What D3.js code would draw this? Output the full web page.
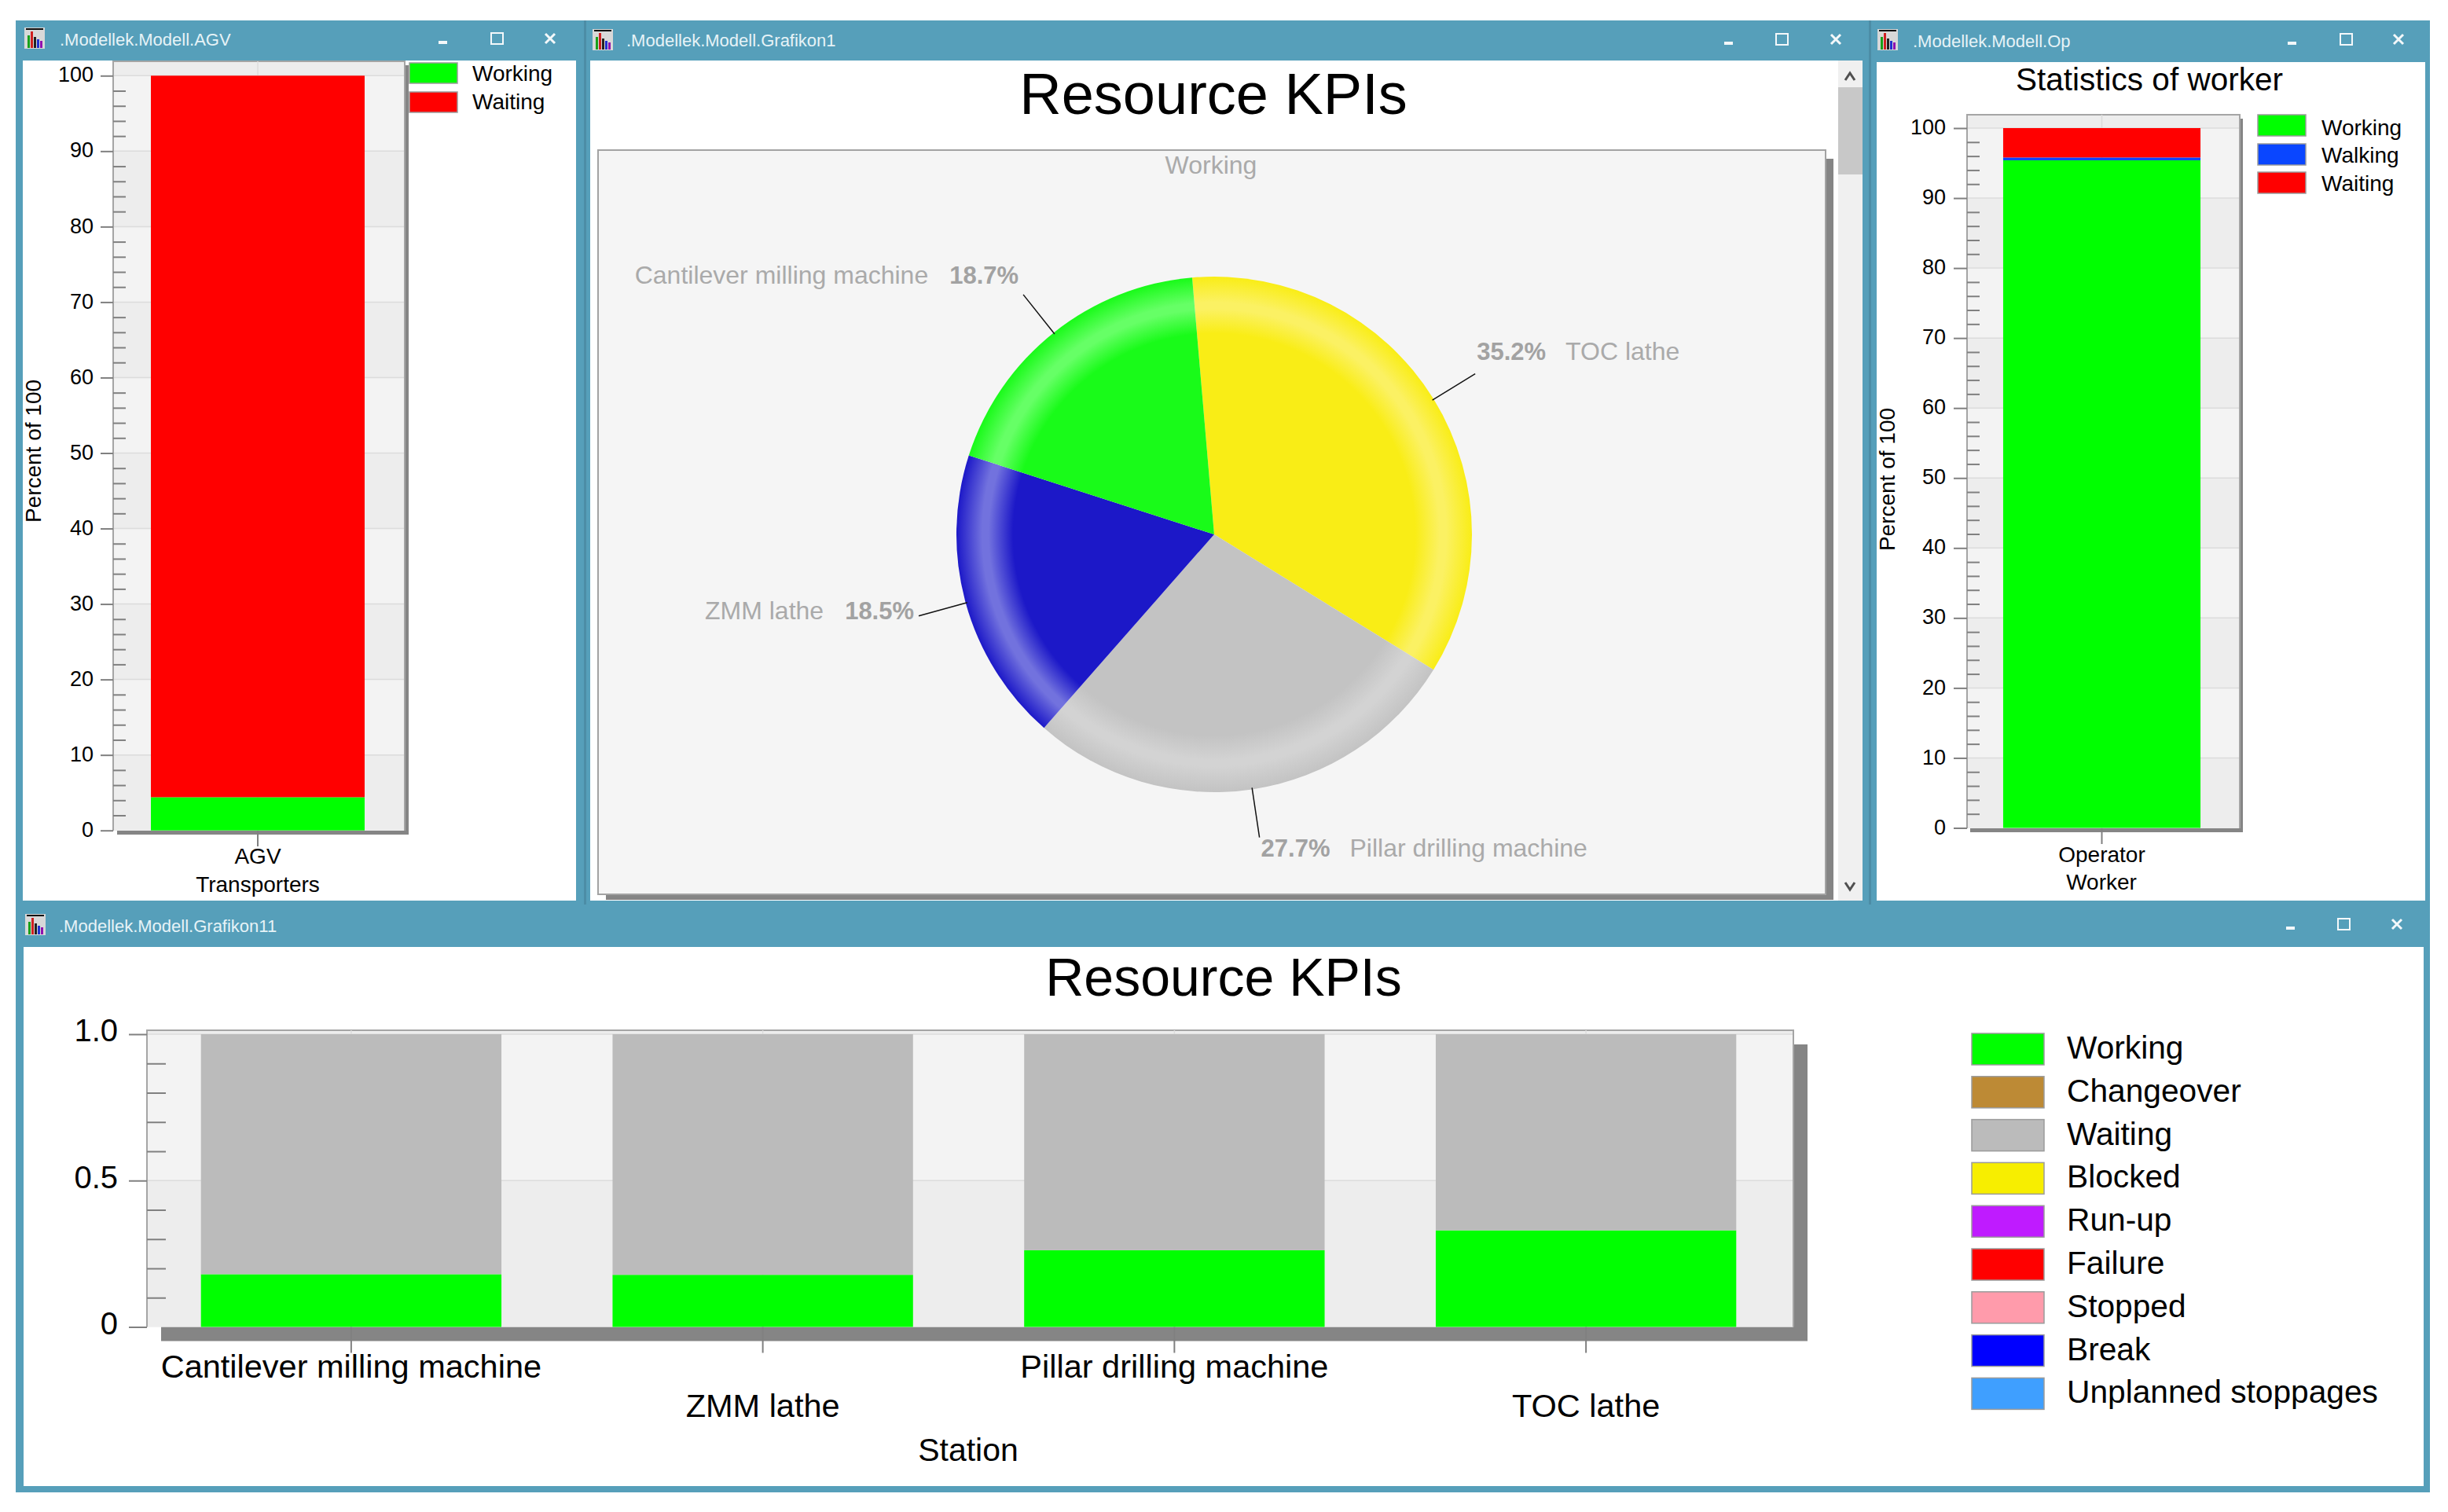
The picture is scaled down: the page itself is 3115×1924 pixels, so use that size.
<!DOCTYPE html>
<html>
<head>
<meta charset="utf-8">
<title>Resource KPIs</title>
<script src="https://cdn.jsdelivr.net/npm/d3@7"></script>
<style>
    body { margin: 0; background: #fff; }
    svg { display: block; }
    text { font-family: "Liberation Sans", Arial, sans-serif; fill: #000; }
</style>
</head>
<body>
<svg id="visualisation" width="3115" height="1924"></svg>
<script>
// AGV window
var agvCategories = ["AGV"];
var agvWorking = [4.4];
var agvWaiting = [95.6];
var agvNames = ["Working", "Waiting"];
var agvColors = ["#00ff00", "#ff0000"];

// worker window
var opCategories = ["Operator"];
var opWorking = [95.4];
var opWalking = [0.4];
var opWaiting = [4.2];
var opNames = ["Working", "Walking", "Waiting"];
var opColors = ["#00ff00", "#0a46ff", "#ff0000"];

var percentTicks = [0, 10, 20, 30, 40, 50, 60, 70, 80, 90, 100];
var percentMinor = [2, 4, 6, 8, 12, 14, 16, 18, 22, 24, 26, 28, 32, 34, 36, 38, 42, 44, 46, 48, 52, 54, 56, 58, 62, 64, 66, 68, 72, 74, 76, 78, 82, 84, 86, 88, 92, 94, 96, 98];

// pie window, clockwise from the top
var pieNames = ["TOC lathe", "Pillar drilling machine", "ZMM lathe", "Cantilever milling machine"];
var pieShares = [35.2, 27.7, 18.5, 18.7];
var pieColors = ["#f9ed16", "#c3c3c3", "#1c18c8", "#19fb19"];
var pieLights = ["#fbf163", "#d3d3d3", "#7272de", "#66ff66"];

// station window
var stations = ["Cantilever milling machine", "ZMM lathe", "Pillar drilling machine", "TOC lathe"];
var stationWorking = [0.18, 0.178, 0.262, 0.33];
var stationWaiting = [0.82, 0.822, 0.738, 0.67];
var stationTicks = [0, 0.5, 1];
var stationTickLabels = ["0", "0.5", "1.0"];
var stationMinor = [0.1, 0.2, 0.3, 0.4, 0.6, 0.7, 0.8, 0.9];
var stateNames = ["Working", "Changeover", "Waiting", "Blocked", "Run-up", "Failure", "Stopped", "Break", "Unplanned stoppages"];
var stateColors = ["#00ff00", "#bd8a35", "#bbbbbb", "#f7ee00", "#bf1bff", "#ff0000", "#ff9bab", "#0000ff", "#3f9fff"];

var BLUE = "#569fba",
    BAND_DARK = "#ededed",
    BAND_LIGHT = "#f3f3f3",
    GRID = "#dcdcdc",
    TICK = "#808080",
    SHADOW = "#858585";

var vis = d3.select("#visualisation");

var addText = function (parent, x, y, str, size, anchor) {
    return parent.append("text")
        .attr("x", x)
        .attr("y", y)
        .attr("font-size", size)
        .attr("text-anchor", anchor || "start")
        .text(str);
};

var drawIcon = function (x, y) {
    var g = vis.append("g").attr("transform", "translate(" + x + "," + y + ")");
    g.append("rect").attr("width", 26).attr("height", 27).attr("fill", "#d8d8d8");
    g.append("rect").attr("x", 2).attr("y", 1).attr("width", 22).attr("height", 2).attr("fill", "#111");
    ["#19a019", "#d02020", "#222222", "#2030d0", "#9010b0"].forEach(function (c, i) {
        var h = [16, 21, 14, 11, 9][i];
        g.append("rect")
            .attr("x", 4 + i * 4)
            .attr("y", 26 - h)
            .attr("width", 3)
            .attr("height", h)
            .attr("fill", c);
    });
};

var drawButtons = function (xMin, xMax, xClose, y) {
    var g = vis.append("g").attr("fill", "none").attr("stroke", "#f4f8fa");
    g.append("line")
        .attr("x1", xMin - 5).attr("x2", xMin + 6)
        .attr("y1", y + 5).attr("y2", y + 5)
        .attr("stroke-width", 4);
    g.append("rect")
        .attr("x", xMax - 7).attr("y", y - 7)
        .attr("width", 15).attr("height", 14)
        .attr("stroke-width", 2);
    g.append("path")
        .attr("d", "M" + (xClose - 6) + "," + (y - 6) + "L" + (xClose + 6) + "," + (y + 6) +
            "M" + (xClose + 6) + "," + (y - 6) + "L" + (xClose - 6) + "," + (y + 6))
        .attr("stroke-width", 3);
};

var drawTitleBar = function (iconX, iconY, textX, textY, str, btn) {
    drawIcon(iconX, iconY);
    addText(vis, textX, textY, str, 22).style("fill", "#e6f3f7");
    drawButtons(btn[0], btn[1], btn[2], btn[3]);
};

var drawChrome = function () {
    vis.append("rect").attr("x", 20).attr("y", 26).attr("width", 3072).attr("height", 1873).attr("fill", BLUE);
    [[29, 77, 704, 1069], [751, 77, 1619, 1069], [2388, 79, 698, 1067], [30, 1205, 3054, 686]].forEach(function (r) {
        vis.append("rect")
            .attr("x", r[0]).attr("y", r[1])
            .attr("width", r[2]).attr("height", r[3])
            .attr("fill", "#fff");
    });
    [[743, 26, 3, 1125], [2378, 26, 3, 1125]].forEach(function (r) {
        vis.append("rect")
            .attr("x", r[0]).attr("y", r[1])
            .attr("width", r[2]).attr("height", r[3])
            .attr("fill", "#4c8da6");
    });
    drawTitleBar(31, 35, 76, 58, ".Modellek.Modell.AGV", [563, 632, 700, 49]);
    drawTitleBar(754, 37, 797, 59, ".Modellek.Modell.Grafikon1", [2199, 2267, 2336, 50]);
    drawTitleBar(2389, 37, 2434, 60, ".Modellek.Modell.Op", [2916, 2985, 3052, 50]);
    drawTitleBar(32, 1163, 75, 1186, ".Modellek.Modell.Grafikon11", [2914, 2982, 3050, 1176]);
};

// bands, grid lines and frame behind a stacked chart
var drawPlotBack = function (o, yScale, ticks) {
    var p = o.plot;
    vis.append("rect")
        .attr("x", p.left + o.shadow[0])
        .attr("y", p.top + o.shadow[1])
        .attr("width", p.right - p.left)
        .attr("height", p.bottom - p.top)
        .attr("fill", SHADOW);
    vis.append("rect")
        .attr("x", p.left).attr("y", p.top)
        .attr("width", p.right - p.left).attr("height", p.bottom - p.top)
        .attr("fill", BAND_DARK);
    vis.selectAll(null)
        .data(d3.pairs(ticks))
        .enter().append("rect")
        .attr("x", p.left)
        .attr("y", function (d) { return yScale(d[1]); })
        .attr("width", p.right - p.left)
        .attr("height", function (d) { return yScale(d[0]) - yScale(d[1]); })
        .attr("fill", function (d, i) { return i % 2 === 0 ? BAND_DARK : BAND_LIGHT; });
    vis.selectAll(null)
        .data(ticks.slice(1))
        .enter().append("line")
        .attr("x1", p.left).attr("x2", p.right)
        .attr("y1", yScale).attr("y2", yScale)
        .attr("stroke", GRID)
        .attr("stroke-width", 1.5);
    vis.append("path")
        .attr("d", "M" + p.left + "," + p.bottom + "V" + p.top + "H" + p.right + "V" + p.bottom)
        .attr("fill", "none")
        .attr("stroke", "#a5a5a5")
        .attr("stroke-width", 2);
};

// one stacked chart: the series are passed as rows of {name: value}
var drawStacked = function (o) {
    var p = o.plot;
    var xScale = d3.scaleBand().domain(o.categories).range(o.xRange).paddingInner(o.padding).paddingOuter(o.padding / 2),
        yScale = d3.scaleLinear().domain(o.domain).range(o.yRange);

    drawPlotBack(o, yScale, o.ticks);

    // category grid line stands behind the bars
    vis.selectAll(null)
        .data(o.categories)
        .enter().append("line")
        .attr("x1", function (d) { return xScale(d) + xScale.bandwidth() / 2; })
        .attr("x2", function (d) { return xScale(d) + xScale.bandwidth() / 2; })
        .attr("y1", p.top).attr("y2", p.bottom)
        .attr("stroke", GRID)
        .attr("stroke-width", 1.5);

    var stack = d3.stack().keys(o.keys);
    vis.selectAll(null)
        .data(stack(o.rows))
        .enter().append("g")
        .attr("fill", function (d) { return o.color(d.key); })
        .selectAll("rect")
        .data(function (d) { return d; })
        .enter().append("rect")
        .attr("x", function (d) { return xScale(d.data.category); })
        .attr("y", function (d) { return yScale(d[1]); })
        .attr("width", xScale.bandwidth())
        .attr("height", function (d) { return yScale(d[0]) - yScale(d[1]); });

    var yAxis = d3.axisLeft(yScale)
        .tickValues(o.ticks)
        .tickSize(p.left - o.tickLeft)
        .tickPadding(o.tickPad)
        .tickFormat(o.tickFormat);
    var gy = vis.append("g")
        .attr("transform", "translate(" + p.left + ",0)")
        .call(yAxis);
    gy.select(".domain").remove();
    gy.selectAll("line").attr("stroke", TICK).attr("stroke-width", 2);
    gy.selectAll("text")
        .attr("font-size", o.fontSize)
        .attr("font-family", "Liberation Sans")
        .attr("y", o.tickDy || 0);

    var gm = vis.append("g")
        .attr("transform", "translate(" + p.left + ",0)")
        .call(d3.axisRight(yScale).tickValues(o.minor).tickSize(o.minorLen).tickFormat(""));
    gm.select(".domain").remove();
    gm.selectAll("line").attr("stroke", TICK).attr("stroke-width", 2);

    var xAxis = d3.axisBottom(xScale)
        .tickSize(o.xTickLen)
        .tickPadding(0);
    var gx = vis.append("g")
        .attr("transform", "translate(0," + p.bottom + ")")
        .call(xAxis);
    gx.select(".domain").remove();
    gx.selectAll("line").attr("stroke", TICK).attr("stroke-width", 2);
    gx.selectAll("text")
        .attr("font-size", o.labelSize || o.fontSize)
        .attr("font-family", "Liberation Sans")
        .attr("dy", null)
        .attr("y", function (d, i) { return o.labelY(i) - p.bottom; });
};

var drawLegend = function (names, colors, rows, sw, textX, size) {
    var g = vis.append("g");
    g.selectAll("rect")
        .data(names)
        .enter().append("rect")
        .attr("x", sw.x)
        .attr("y", function (d, i) { return rows.top[i]; })
        .attr("width", sw.w)
        .attr("height", sw.h)
        .attr("fill", function (d, i) { return colors[i]; })
        .attr("stroke", "#9b9b9b")
        .attr("stroke-width", 1.5);
    g.selectAll("text")
        .data(names)
        .enter().append("text")
        .attr("x", textX)
        .attr("y", function (d, i) { return rows.base[i]; })
        .attr("font-size", size)
        .text(function (d) { return d; });
};

var rotated = function (x, y, str, size) {
    vis.append("text")
        .attr("transform", "translate(" + x + "," + y + ") rotate(-90)")
        .attr("font-size", size)
        .attr("text-anchor", "middle")
        .text(str);
};

var drawAgv = function () {
    drawStacked({
        categories: agvCategories,
        keys: agvNames,
        rows: agvCategories.map(function (c, i) {
            return { category: c, Working: agvWorking[i], Waiting: agvWaiting[i] };
        }),
        color: d3.scaleOrdinal(agvNames, agvColors),
        plot: { left: 144, right: 515, top: 78, bottom: 1057 },
        shadow: [5, 5],
        xRange: [143, 513],
        padding: 0.265,
        domain: [0, 100],
        yRange: [1056.7, 96.3],
        ticks: percentTicks,
        minor: percentMinor,
        minorLen: 16,
        tickLeft: 128,
        tickPad: 9,
        tickFormat: d3.format("d"),
        fontSize: 27,
        tickDy: -1,
        labelSize: 28,
        xTickLen: 20,
        labelY: function () { return 1099; }
    });
    addText(vis, 328, 1135, "Transporters", 28, "middle");
    rotated(52, 574, "Percent of 100", 28);
    drawLegend(agvNames, agvColors, { top: [80, 117], base: [103, 139] }, { x: 521, w: 61, h: 26 }, 601, 28);
};

var drawOp = function () {
    addText(vis, 2735, 115, "Statistics of worker", 40.5, "middle");
    drawStacked({
        categories: opCategories,
        keys: opNames,
        rows: opCategories.map(function (c, i) {
            return { category: c, Working: opWorking[i], Walking: opWalking[i], Waiting: opWaiting[i] };
        }),
        color: d3.scaleOrdinal(opNames, opColors),
        plot: { left: 2503, right: 2850, top: 146, bottom: 1054 },
        shadow: [4, 5],
        xRange: [2503, 2846],
        padding: 0.268,
        domain: [0, 100],
        yRange: [1053.5, 163],
        ticks: percentTicks,
        minor: percentMinor,
        minorLen: 16,
        tickLeft: 2486,
        tickPad: 10,
        tickFormat: d3.format("d"),
        fontSize: 27,
        tickDy: -1,
        labelSize: 28,
        xTickLen: 20,
        labelY: function () { return 1097; }
    });
    addText(vis, 2674, 1132, "Worker", 28, "middle");
    rotated(2411, 610, "Percent of 100", 28);
    drawLegend(opNames, opColors, { top: [146, 183, 219], base: [172, 207, 243] }, { x: 2873, w: 61, h: 27 }, 2954, 28);
};

var drawStations = function () {
    addText(vis, 1557, 1267, "Resource KPIs", 68, "middle");
    var stationKeys = ["Working", "Waiting"];
    drawStacked({
        categories: stations,
        keys: stationKeys,
        rows: stations.map(function (c, i) {
            return { category: c, Working: stationWorking[i], Waiting: stationWaiting[i] };
        }),
        color: function (k) { return stateColors[stateNames.indexOf(k)]; },
        plot: { left: 187, right: 2282, top: 1311, bottom: 1688.5 },
        shadow: [18, 18],
        xRange: [185, 2280],
        padding: 0.27,
        domain: [0, 1],
        yRange: [1688.5, 1316],
        ticks: stationTicks,
        minor: stationMinor,
        minorLen: 24,
        tickLeft: 164,
        tickPad: 14,
        tickFormat: function (d) { return stationTickLabels[stationTicks.indexOf(d)]; },
        fontSize: 40,
        tickDy: -4,
        labelSize: 41.5,
        xTickLen: 33,
        labelY: function (i) { return i % 2 === 0 ? 1753 : 1803; }
    });
    addText(vis, 1232, 1859, "Station", 41, "middle");
    drawLegend(stateNames, stateColors, {
        top: stateNames.map(function (d, i) { return 1315 + i * 54.8; }),
        base: stateNames.map(function (d, i) { return 1347 + i * 54.8; })
    }, { x: 2509, w: 92, h: 40 }, 2630, 40.7);
};

var drawPie = function () {
    addText(vis, 1544, 145, "Resource KPIs", 74, "middle");

    // frame and scroll bar
    vis.append("rect").attr("x", 771).attr("y", 202).attr("width", 1562).attr("height", 943).attr("fill", SHADOW);
    vis.append("rect").attr("x", 761).attr("y", 191).attr("width", 1562).attr("height", 947)
        .attr("fill", "#f5f5f5").attr("stroke", "#a3a3a3").attr("stroke-width", 2);
    vis.append("rect").attr("x", 2339).attr("y", 77).attr("width", 31).attr("height", 1069).attr("fill", "#f0f0f0");
    vis.append("rect").attr("x", 2339).attr("y", 111).attr("width", 31).attr("height", 111).attr("fill", "#c8c8c8");
    vis.append("path")
        .attr("d", "M2348,102L2354,93L2360,102M2348,1123L2354,1132L2360,1123")
        .attr("fill", "none").attr("stroke", "#505050").attr("stroke-width", 3);

    addText(vis, 1541, 221, "Working", 32, "middle").style("fill", "#aaaaaa");

    var R = 328,
        cx = 1545,
        cy = 680;
    var startAngle = -4.9 * Math.PI / 180;
    var arcs = d3.pie()
        .sort(null)
        .startAngle(startAngle)
        .endAngle(startAngle + 2 * Math.PI)(pieShares);
    var arc = d3.arc().innerRadius(0).outerRadius(R);
    var g = vis.append("g").attr("transform", "translate(" + cx + "," + cy + ")");

    var defs = vis.append("defs");
    arcs.forEach(function (a, i) {
        var grad = defs.append("radialGradient")
            .attr("id", "rim" + i)
            .attr("gradientUnits", "userSpaceOnUse")
            .attr("cx", 0).attr("cy", 0).attr("r", R);
        [[0, pieColors[i]], [0.78, pieColors[i]], [0.875, pieLights[i]], [0.9, pieLights[i]], [1, pieColors[i]]].forEach(function (s) {
            grad.append("stop").attr("offset", s[0]).attr("stop-color", s[1]);
        });
    });

    g.selectAll("path")
        .data(arcs)
        .enter().append("path")
        .attr("d", arc)
        .attr("fill", function (d, i) { return "url(#rim" + i + ")"; });

    // leader lines and their labels
    var inner = d3.arc().innerRadius(326).outerRadius(326),
        outer = d3.arc().innerRadius(390).outerRadius(390);
    var labelDy = [-18, 24, 4, -14];
    arcs.forEach(function (a, i) {
        var p0 = inner.centroid(a),
            p1 = outer.centroid(a),
            right = p1[0] > 0 && i < 2,
            pct = pieShares[i].toFixed(1) + "%";
        g.append("line")
            .attr("x1", p0[0]).attr("y1", p0[1])
            .attr("x2", p1[0]).attr("y2", p1[1])
            .attr("stroke", "#111")
            .attr("stroke-width", 1.5);
        var t = g.append("text")
            .attr("x", p1[0] + (right ? 2 : -6))
            .attr("y", p1[1] + labelDy[i])
            .attr("font-size", 32)
            .attr("text-anchor", right ? "start" : "end")
            .style("fill", "#aaaaaa");
        if (right) {
            t.append("tspan").attr("font-weight", "bold").attr("font-size", 31).style("fill", "#a2a2a2").text(pct);
            t.append("tspan").attr("dx", 25).text(pieNames[i]);
        } else {
            t.append("tspan").text(pieNames[i]);
            t.append("tspan").attr("dx", 27).attr("font-weight", "bold").attr("font-size", 31).style("fill", "#a2a2a2").text(pct);
        }
    });
};

drawChrome();
drawAgv();
drawPie();
drawOp();
drawStations();
</script>
</body>
</html>
